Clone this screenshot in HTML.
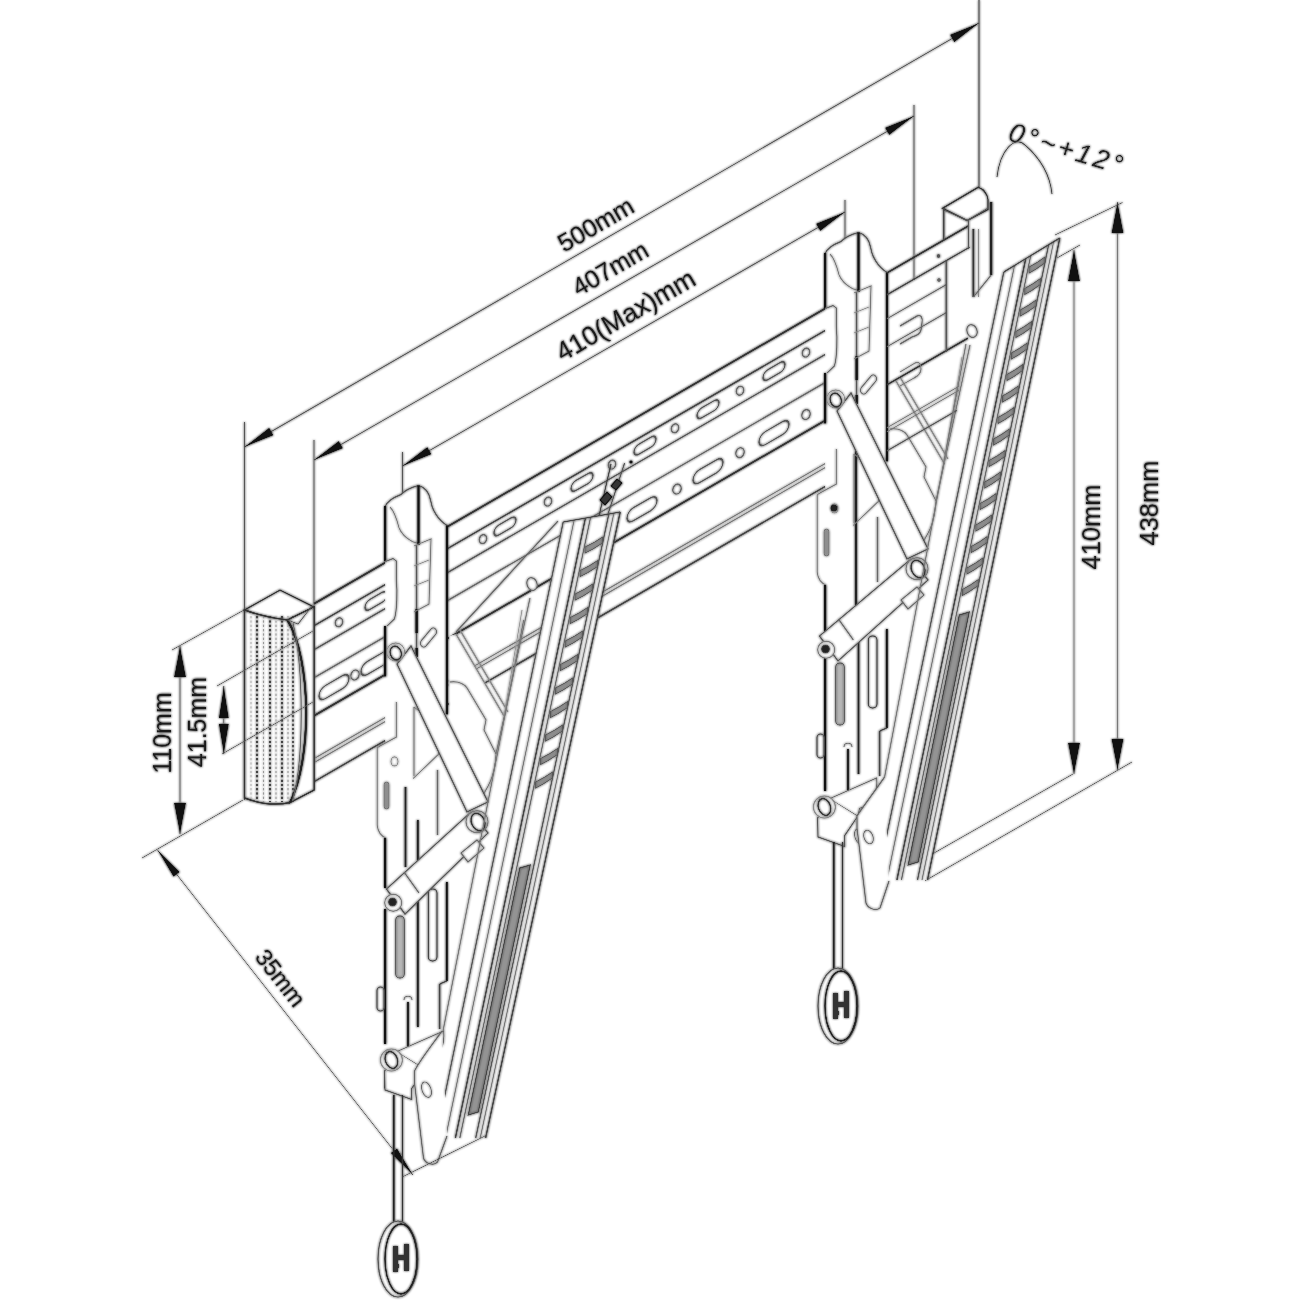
<!DOCTYPE html>
<html><head><meta charset="utf-8"><style>
html,body{margin:0;padding:0;background:#fff;}
svg{display:block;}
text{font-family:"Liberation Sans",sans-serif;}
</style></head><body>
<svg width="1300" height="1300" viewBox="0 0 1300 1300">
<defs>
<filter id="soft" x="0" y="0" width="1300" height="1300" filterUnits="userSpaceOnUse" color-interpolation-filters="sRGB">
<feColorMatrix in="SourceGraphic" type="matrix" values="0 0 0 0 0  0 0 0 0 0  0 0 0 0 0  -0.3333 -0.3333 -0.3333 0 1" result="ink"/>
<feGaussianBlur in="ink" stdDeviation="1.0" result="blur"/>
<feComponentTransfer in="blur" result="amp"><feFuncA type="linear" slope="2.0" intercept="0"/></feComponentTransfer>
<feFlood flood-color="#777" result="col"/>
<feComposite in="col" in2="amp" operator="in" result="halo"/>
<feFlood flood-color="#fff" result="white"/>
<feComposite in="halo" in2="white" operator="over" result="haloW"/>
<feBlend in="SourceGraphic" in2="haloW" mode="darken"/>
</filter>
</defs>
<g filter="url(#soft)">
<rect width="1300" height="1300" fill="#fff"/>
<line x1="244.5" y1="422.0" x2="244.5" y2="800.0" stroke="#555" stroke-width="1.3"/>
<line x1="314.0" y1="440.0" x2="314.0" y2="790.0" stroke="#555" stroke-width="1.3"/>
<line x1="402.5" y1="452.0" x2="402.5" y2="506.0" stroke="#555" stroke-width="1.3"/>
<line x1="845.0" y1="200.0" x2="845.0" y2="252.0" stroke="#555" stroke-width="1.3"/>
<line x1="914.0" y1="105.0" x2="914.0" y2="280.0" stroke="#555" stroke-width="1.3"/>
<line x1="979.0" y1="0.0" x2="979.0" y2="187.0" stroke="#555" stroke-width="1.5"/>
<line x1="244.5" y1="447.0" x2="979.0" y2="23.0" stroke="#555" stroke-width="1.2"/>
<line x1="314.0" y1="460.0" x2="914.0" y2="116.0" stroke="#555" stroke-width="1.2"/>
<line x1="402.5" y1="466.0" x2="845.0" y2="212.0" stroke="#555" stroke-width="1.2"/>
<path d="M244.5,447.0 L269.2,427.8 L273.5,435.2 Z" fill="#111"/>
<path d="M979.0,23.0 L954.3,42.2 L950.0,34.8 Z" fill="#111"/>
<path d="M314.0,460.0 L338.8,440.9 L343.0,448.3 Z" fill="#111"/>
<path d="M914.0,116.0 L889.2,135.1 L885.0,127.7 Z" fill="#111"/>
<path d="M402.5,466.0 L427.3,446.9 L431.5,454.3 Z" fill="#111"/>
<path d="M845.0,212.0 L820.2,231.1 L816.0,223.7 Z" fill="#111"/>
<line x1="180.0" y1="646.0" x2="180.0" y2="834.0" stroke="#555" stroke-width="1.2"/>
<path d="M180.0,646.0 L186.0,677.0 L174.0,677.0 Z" fill="#111"/>
<path d="M180.0,834.0 L174.0,803.0 L186.0,803.0 Z" fill="#111"/>
<line x1="172.0" y1="650.0" x2="244.0" y2="610.0" stroke="#555" stroke-width="1.0"/>
<line x1="142.0" y1="858.0" x2="243.0" y2="800.0" stroke="#555" stroke-width="1.0"/>
<line x1="223.8" y1="686.0" x2="223.8" y2="754.0" stroke="#555" stroke-width="1.2"/>
<path d="M223.8,686.0 L228.8,718.0 L218.8,718.0 Z" fill="#111"/>
<path d="M223.8,754.0 L218.8,724.0 L228.8,724.0 Z" fill="#111"/>
<line x1="157.5" y1="850.0" x2="413.0" y2="1175.0" stroke="#555" stroke-width="1.0"/>
<path d="M157.5,850.0 L179.8,871.9 L173.5,876.8 Z" fill="#111"/>
<path d="M413.0,1175.0 L390.7,1153.1 L397.0,1148.2 Z" fill="#111"/>
<line x1="1074.0" y1="250.0" x2="1074.0" y2="774.0" stroke="#777" stroke-width="1.3"/>
<path d="M1074.0,250.0 L1080.0,281.0 L1068.0,281.0 Z" fill="#111"/>
<path d="M1074.0,774.0 L1068.0,743.0 L1080.0,743.0 Z" fill="#111"/>
<line x1="1057.0" y1="258.0" x2="1080.0" y2="245.0" stroke="#555" stroke-width="1.0"/>
<line x1="932.7" y1="853.8" x2="1073.0" y2="774.0" stroke="#555" stroke-width="1.0"/>
<line x1="1117.5" y1="202.0" x2="1117.5" y2="770.0" stroke="#777" stroke-width="1.3"/>
<path d="M1117.5,202.0 L1123.5,233.0 L1111.5,233.0 Z" fill="#111"/>
<path d="M1117.5,770.0 L1111.5,739.0 L1123.5,739.0 Z" fill="#111"/>
<line x1="1055.0" y1="235.0" x2="1122.5" y2="202.5" stroke="#555" stroke-width="1.0"/>
<line x1="925.0" y1="880.8" x2="1132.0" y2="762.0" stroke="#555" stroke-width="1.0"/>
<text x="600" y="232" font-size="25" text-anchor="middle" transform="rotate(-30 600 232)" fill="#1a1a1a" stroke="#1a1a1a" stroke-width="0.3">500mm</text>
<text x="614.5" y="276" font-size="25" text-anchor="middle" transform="rotate(-30 614.5 276)" fill="#1a1a1a" stroke="#1a1a1a" stroke-width="0.3">407mm</text>
<text x="630" y="323" font-size="26.5" text-anchor="middle" transform="rotate(-30 630 323)" fill="#1a1a1a" stroke="#1a1a1a" stroke-width="0.3">410(Max)mm</text>
<text x="171" y="733" font-size="25" text-anchor="middle" transform="rotate(-90 171 733)" fill="#1a1a1a" stroke="#1a1a1a" stroke-width="0.3">110mm</text>
<text x="206" y="722" font-size="25" text-anchor="middle" transform="rotate(-90 206 722)" fill="#1a1a1a" stroke="#1a1a1a" stroke-width="0.3">41.5mm</text>
<text x="1100" y="527" font-size="25.5" text-anchor="middle" transform="rotate(-90 1100 527)" fill="#1a1a1a" stroke="#1a1a1a" stroke-width="0.3">410mm</text>
<text x="1158" y="503" font-size="25.5" text-anchor="middle" transform="rotate(-90 1158 503)" fill="#1a1a1a" stroke="#1a1a1a" stroke-width="0.3">438mm</text>
<text x="274" y="983" font-size="23.5" text-anchor="middle" transform="rotate(52 274 983)" fill="#1a1a1a" stroke="#1a1a1a" stroke-width="0.3">35mm</text>
<text x="1007" y="140" font-size="27" text-anchor="start" transform="rotate(17 1007 140)" fill="#222" font-style="italic" letter-spacing="3.2">0°~+12°</text>
<path d="M997,177 C1000,150 1015,135 1025,145 C1040,158 1050,175 1052,194" stroke="#444" stroke-width="1.2" fill="none" />
<line x1="314.0" y1="603.7" x2="887.0" y2="272.8" stroke="#333" stroke-width="2.2"/>
<line x1="314.0" y1="625.7" x2="887.0" y2="294.8" stroke="#444" stroke-width="1.8"/>
<line x1="314.0" y1="649.7" x2="887.0" y2="318.8" stroke="#555" stroke-width="1.6"/>
<line x1="314.0" y1="677.7" x2="887.0" y2="346.8" stroke="#666" stroke-width="1.6"/>
<line x1="314.0" y1="715.7" x2="887.0" y2="384.8" stroke="#333" stroke-width="2.2"/>
<line x1="314.0" y1="758.7" x2="887.0" y2="427.8" stroke="#777" stroke-width="1.4"/>
<line x1="314.0" y1="762.7" x2="887.0" y2="431.8" stroke="#777" stroke-width="1.4"/>
<line x1="314.0" y1="781.7" x2="887.0" y2="450.8" stroke="#444" stroke-width="1.8"/>
<ellipse cx="339.0" cy="622.3" rx="3.6" ry="4.5" fill="none" stroke="#666" stroke-width="1.7" transform="rotate(20 339.0 622.3)"/>
<rect x="-11.0" y="-5.0" width="22.0" height="10.0" rx="5.0" fill="none" stroke="#555" stroke-width="1.7" transform="translate(376.0,600.9) skewY(-30)"/>
<ellipse cx="483.0" cy="539.1" rx="3.6" ry="4.5" fill="none" stroke="#666" stroke-width="1.7" transform="rotate(20 483.0 539.1)"/>
<rect x="-11.0" y="-5.0" width="22.0" height="10.0" rx="5.0" fill="none" stroke="#555" stroke-width="1.7" transform="translate(505.0,526.4) skewY(-30)"/>
<ellipse cx="548.0" cy="501.6" rx="3.6" ry="4.5" fill="none" stroke="#666" stroke-width="1.7" transform="rotate(20 548.0 501.6)"/>
<rect x="-11.0" y="-5.0" width="22.0" height="10.0" rx="5.0" fill="none" stroke="#555" stroke-width="1.7" transform="translate(582.0,482.0) skewY(-30)"/>
<ellipse cx="612.0" cy="464.6" rx="3.6" ry="4.5" fill="none" stroke="#666" stroke-width="1.7" transform="rotate(20 612.0 464.6)"/>
<rect x="-11.0" y="-5.0" width="22.0" height="10.0" rx="5.0" fill="none" stroke="#555" stroke-width="1.7" transform="translate(645.0,445.6) skewY(-30)"/>
<ellipse cx="675.0" cy="428.3" rx="3.6" ry="4.5" fill="none" stroke="#666" stroke-width="1.7" transform="rotate(20 675.0 428.3)"/>
<rect x="-11.0" y="-5.0" width="22.0" height="10.0" rx="5.0" fill="none" stroke="#555" stroke-width="1.7" transform="translate(708.0,409.2) skewY(-30)"/>
<ellipse cx="740.0" cy="390.7" rx="3.6" ry="4.5" fill="none" stroke="#666" stroke-width="1.7" transform="rotate(20 740.0 390.7)"/>
<rect x="-11.0" y="-5.0" width="22.0" height="10.0" rx="5.0" fill="none" stroke="#555" stroke-width="1.7" transform="translate(774.0,371.1) skewY(-30)"/>
<ellipse cx="806.0" cy="352.6" rx="3.6" ry="4.5" fill="none" stroke="#666" stroke-width="1.7" transform="rotate(20 806.0 352.6)"/>
<rect x="-11.0" y="-5.0" width="22.0" height="10.0" rx="5.0" fill="none" stroke="#555" stroke-width="1.7" transform="translate(838.0,334.1) skewY(-30)"/>
<rect x="-15.0" y="-6.5" width="30.0" height="13.0" rx="6.5" fill="none" stroke="#555" stroke-width="1.7" transform="translate(334.0,687.1) skewY(-30)"/>
<ellipse cx="355.0" cy="675.0" rx="4.0" ry="5.0" fill="none" stroke="#666" stroke-width="1.7" transform="rotate(20 355.0 675.0)"/>
<rect x="-15.0" y="-6.5" width="30.0" height="13.0" rx="6.5" fill="none" stroke="#555" stroke-width="1.7" transform="translate(376.0,662.9) skewY(-30)"/>
<ellipse cx="612.0" cy="526.6" rx="4.0" ry="5.0" fill="none" stroke="#666" stroke-width="1.7" transform="rotate(20 612.0 526.6)"/>
<rect x="-15.0" y="-6.5" width="30.0" height="13.0" rx="6.5" fill="none" stroke="#555" stroke-width="1.7" transform="translate(642.0,509.3) skewY(-30)"/>
<ellipse cx="677.0" cy="489.1" rx="4.0" ry="5.0" fill="none" stroke="#666" stroke-width="1.7" transform="rotate(20 677.0 489.1)"/>
<rect x="-15.0" y="-6.5" width="30.0" height="13.0" rx="6.5" fill="none" stroke="#555" stroke-width="1.7" transform="translate(708.0,471.2) skewY(-30)"/>
<ellipse cx="740.0" cy="452.7" rx="4.0" ry="5.0" fill="none" stroke="#666" stroke-width="1.7" transform="rotate(20 740.0 452.7)"/>
<rect x="-15.0" y="-6.5" width="30.0" height="13.0" rx="6.5" fill="none" stroke="#555" stroke-width="1.7" transform="translate(774.0,433.1) skewY(-30)"/>
<ellipse cx="806.0" cy="414.6" rx="4.0" ry="5.0" fill="none" stroke="#666" stroke-width="1.7" transform="rotate(20 806.0 414.6)"/>
<path d="M244.5,610 L280,590 L310,605 L314,607 L287.5,620 C270,618 255,614 244.5,610 Z" stroke="#333" stroke-width="1.5" fill="#fff" />
<path d="M287.5,620 C312,660 312,760 290,802.5 L314,790 L314,607 Z" stroke="#333" stroke-width="1.5" fill="#fff" />
<path d="M244.5,610 C255,614 270,618 287.5,620 C312,660 312,760 290,802.5 C275,806 258,803 244.5,798 Z" stroke="#333" stroke-width="1.5" fill="#fff" />
<line x1="251" y1="616" x2="251" y2="802" stroke="#aaa" stroke-width="1.2" stroke-dasharray="2.5,1.8"/>
<line x1="257" y1="616" x2="257" y2="802" stroke="#444" stroke-width="2.2" stroke-dasharray="2.5,1.8"/>
<line x1="263.5" y1="616" x2="263.5" y2="802" stroke="#999" stroke-width="1.3" stroke-dasharray="2.5,1.8"/>
<line x1="270" y1="616" x2="270" y2="802" stroke="#444" stroke-width="2.2" stroke-dasharray="2.5,1.8"/>
<line x1="276" y1="616" x2="276" y2="802" stroke="#999" stroke-width="1.3" stroke-dasharray="2.5,1.8"/>
<line x1="282" y1="616" x2="282" y2="802" stroke="#444" stroke-width="2.2" stroke-dasharray="2.5,1.8"/>
<line x1="288" y1="616" x2="288" y2="802" stroke="#999" stroke-width="1.3" stroke-dasharray="2.5,1.8"/>
<line x1="293" y1="616" x2="293" y2="802" stroke="#555" stroke-width="2.0" stroke-dasharray="2.5,1.8"/>
<path d="M244.5,610 C255,614 270,618 287.5,620 C312,660 312,760 290,802.5 C275,806 258,803 244.5,798 Z" fill="none" stroke="#333" stroke-width="1.5"/>
<path d="M287.5,620 C312,660 312,760 290,802.5 L314,790 L314,607 Z" stroke="#333" stroke-width="1.5" fill="#fff" />
<path d="M287.5,620 C312,660 312,760 290,802.5" stroke="#222" stroke-width="2.4" fill="none" />
<path d="M293,623 C304,670 304,760 292.6,801" stroke="#666" stroke-width="1.4" fill="none" />
<path d="M287.5,620 L298,624 L312,606" stroke="#555" stroke-width="1.2" fill="none" />
<line x1="217.0" y1="686.0" x2="313.0" y2="631.0" stroke="#555" stroke-width="1.0"/>
<line x1="222.0" y1="754.0" x2="313.0" y2="702.0" stroke="#555" stroke-width="1.0"/>
<g><path d="M385,506 C387,501 393,498 401,494.6 C405,490 411,487.5 418.5,485.5 C424,487 429,492 430.5,500 C432,510 438,520 447,525.4 L447,968 L438,1000 L420,1100 L385,1100 Z" stroke="none" stroke-width="0" fill="#fff"/>
<path d="M377,748 L396,737 L396,702 L385,702 L385,840 Z" stroke="none" stroke-width="0" fill="#fff"/>
<path d="M449,636 L457,634 L504,716 L496,754 L482,796 L449,800 Z" stroke="none" stroke-width="0" fill="#fff"/>
<path d="M385,507 C387,501 393,498 401,494.6 C405,490 411,487.5 418.5,485.5 C424,487 429,492 430.5,500 C432,510 438,520 447,525.4" stroke="#555" stroke-width="1.6" fill="none"/>
<path d="M390,507 C393,510 396,516 399,527.7 C401,533 404,537 413,542 L418,543" stroke="#777" stroke-width="1.3" fill="none"/>
<line x1="385.2" y1="506" x2="385.2" y2="561.5" stroke="#111" stroke-width="2.4"/>
<path d="M385.2,561.5 L393,558.5 L396.3,561 L396.3,579.4 C397.5,592 397,610 394.5,618.8 L387,626" stroke="#666" stroke-width="1.4" fill="none"/>
<line x1="385.2" y1="626" x2="385.2" y2="676.6" stroke="#111" stroke-width="2.4"/>
<line x1="447" y1="525.4" x2="447" y2="714.6" stroke="#111" stroke-width="2.4"/>
<line x1="418.5" y1="485.5" x2="418.5" y2="545" stroke="#111" stroke-width="2.6"/>
<line x1="416.6" y1="545" x2="416.6" y2="656" stroke="#555" stroke-width="1.8"/>
<line x1="416.6" y1="609" x2="416.6" y2="633" stroke="#111" stroke-width="2.6"/>
<line x1="416.6" y1="648" x2="416.6" y2="657" stroke="#111" stroke-width="2.6"/>
<path d="M414,546 L431,539 L429,604 L414,612" stroke="#777" stroke-width="1.3" fill="none"/>
<line x1="414" y1="566" x2="429" y2="560" stroke="#888" stroke-width="1.1"/>
<line x1="414" y1="586" x2="429" y2="580" stroke="#888" stroke-width="1.1"/>
<path d="M421,641 L431,629 C434,626 438,630 436,634 L426,646 C423,649 419,645 421,641 Z" stroke="#666" stroke-width="1.2" fill="none"/>
<path d="M377.2,747.8 L381,745.4 L396.3,737 L396.3,702" stroke="#777" stroke-width="1.3" fill="none"/>
<path d="M377.2,747.8 L377.2,825.4 C378,832 381,836 385.8,838" stroke="#777" stroke-width="1.3" fill="none"/>
<line x1="385.2" y1="838" x2="385.2" y2="888" stroke="#111" stroke-width="2.4"/>
<line x1="385.2" y1="909" x2="385.2" y2="1044" stroke="#111" stroke-width="2.4"/>
<line x1="385.2" y1="1071" x2="385.2" y2="1088.5" stroke="#111" stroke-width="2.4"/>
<ellipse cx="394.5" cy="761.4" rx="3.5" ry="4.5" fill="none" stroke="#777" stroke-width="1.1"/>
<rect x="384" y="782" width="5" height="27" rx="2.5" fill="#999" stroke="#666" stroke-width="1"/>
<line x1="405.5" y1="787" x2="405.5" y2="867" stroke="#222" stroke-width="2.2"/>
<line x1="417.8" y1="820" x2="417.8" y2="1027" stroke="#222" stroke-width="2.2"/>
<line x1="414" y1="707" x2="414" y2="776" stroke="#777" stroke-width="1.4"/>
<path d="M414,707 C425,715 436,726 438.8,736.8 L438.8,754 L413,778.6" stroke="#777" stroke-width="1.3" fill="none"/>
<line x1="437.5" y1="770" x2="437.5" y2="835" stroke="#666" stroke-width="1.8"/>
<rect x="428.3" y="889" width="8.7" height="72" rx="4" fill="none" stroke="#444" stroke-width="1.5"/>
<line x1="446.8" y1="882" x2="446.8" y2="981" stroke="#111" stroke-width="2.2"/>
<line x1="446.8" y1="981" x2="439.6" y2="984" stroke="#444" stroke-width="1.5"/>
<rect x="377" y="987" width="7" height="24" rx="3.5" fill="#fff" stroke="#555" stroke-width="1.6"/>
<rect x="395.7" y="916" width="8.6" height="62" rx="4" fill="#bbb" stroke="#555" stroke-width="1.3"/>
<line x1="408" y1="1002" x2="408" y2="1050" stroke="#222" stroke-width="2.2"/>
<path d="M404,1000 C404,995 412,995 412,1000" stroke="#666" stroke-width="1.2" fill="none"/>
<line x1="439.6" y1="984" x2="439.6" y2="1029" stroke="#444" stroke-width="2.0"/>
<path d="M558,521 L456,632" stroke="#666" stroke-width="1.6" fill="none"/>
<path d="M456,634 L504,716 M460,630 L508,712" stroke="#888" stroke-width="1.6" fill="none"/>
<path d="M530,598 L496,754" stroke="#777" stroke-width="1.5" fill="none"/>
<path d="M522,610 L504,716" stroke="#999" stroke-width="1.3" fill="none"/>
<ellipse cx="532" cy="584" rx="5" ry="6.5" fill="#fff" stroke="#666" stroke-width="1.5" transform="rotate(-20 532 584)"/>
<path d="M450,682 C458,681 464,684 467,688 L486,720 L484,730 L496,754 C495,770 492,782 482,796" stroke="#777" stroke-width="1.4" fill="none"/>
<path d="M397,664 L467,812 L488,802 L411,646 Z" stroke="#555" stroke-width="1.6" fill="#fff"/>
<path d="M386.5,889 L471,812 L488,833 L405,914 Z" stroke="#555" stroke-width="1.5" fill="#fff"/>
<path d="M404.0,872 L419.0,893" stroke="#666" stroke-width="1.3" fill="none"/>
<path d="M461,853 L477,840 L484,848 L468,862 Z" stroke="#666" stroke-width="1.3" fill="#fff"/>
<circle cx="395.7" cy="652" r="9" fill="#fff" stroke="#888" stroke-width="1.3"/>
<ellipse cx="395.7" cy="653" rx="5.5" ry="7" fill="#fff" stroke="#333" stroke-width="1.6" transform="rotate(-20 395.7 653)"/>
<circle cx="477" cy="821.7" r="11" fill="#fff" stroke="#777" stroke-width="1.4"/>
<ellipse cx="478" cy="822" rx="6.5" ry="9" fill="#fff" stroke="#333" stroke-width="1.7" transform="rotate(-25 478 822)"/>
<g transform="translate(0,0)">
<circle cx="393.2" cy="902.8" r="8.5" fill="#fff" stroke="#777" stroke-width="1.4"/>
<circle cx="392.5" cy="902" r="4" fill="#222" stroke="#444" stroke-width="1"/>
<path d="M384.6,1071 L397,1051.5 L425,1068.8 L411.7,1088.5 L411.7,1099.5 L385,1090 Z" stroke="#555" stroke-width="1.4" fill="#fff"/>
<path d="M397,1051.5 L443.7,1031 C445,1045 440,1058 426.5,1061.4 L425,1068.8" stroke="#666" stroke-width="1.3" fill="#fff"/>
<circle cx="391.4" cy="1060" r="11" fill="#fff" stroke="#888" stroke-width="1.4"/>
<ellipse cx="391.4" cy="1060" rx="6" ry="8.6" fill="#fff" stroke="#333" stroke-width="1.7" transform="rotate(-20 391.4 1060)"/>
<ellipse cx="426.5" cy="1089.7" rx="4.5" ry="8" fill="none" stroke="#666" stroke-width="1.2" transform="rotate(-20 426.5 1089.7)"/>
</g>
<line x1="393.8" y1="1095" x2="393.8" y2="1224" stroke="#222" stroke-width="2.0"/>
<line x1="402.5" y1="1095" x2="402.5" y2="1224" stroke="#333" stroke-width="1.6"/>
<ellipse cx="398" cy="1259" rx="20" ry="38" fill="#fff" stroke="#555" stroke-width="1.6"/>
<ellipse cx="401" cy="1259" rx="16" ry="35" fill="#fff" stroke="#222" stroke-width="1.8"/>
<path d="M393,1246 h5 v26 h-5 Z M404,1244 h5 v27 h-5 Z M398,1255 h6 v5 h-6 Z M396,1264 h3 v4 h-3 Z" fill="#333"/></g>
<g transform="translate(440,-253)"><path d="M385,506 C387,501 393,498 401,494.6 C405,490 411,487.5 418.5,485.5 C424,487 429,492 430.5,500 C432,510 438,520 447,525.4 L447,968 L438,1000 L420,1100 L385,1100 Z" stroke="none" stroke-width="0" fill="#fff"/>
<path d="M377,748 L396,737 L396,702 L385,702 L385,840 Z" stroke="none" stroke-width="0" fill="#fff"/>
<path d="M449,636 L457,634 L504,716 L496,754 L482,796 L449,800 Z" stroke="none" stroke-width="0" fill="#fff"/>
<path d="M385,507 C387,501 393,498 401,494.6 C405,490 411,487.5 418.5,485.5 C424,487 429,492 430.5,500 C432,510 438,520 447,525.4" stroke="#555" stroke-width="1.6" fill="none"/>
<path d="M390,507 C393,510 396,516 399,527.7 C401,533 404,537 413,542 L418,543" stroke="#777" stroke-width="1.3" fill="none"/>
<line x1="385.2" y1="506" x2="385.2" y2="561.5" stroke="#111" stroke-width="2.4"/>
<path d="M385.2,561.5 L393,558.5 L396.3,561 L396.3,579.4 C397.5,592 397,610 394.5,618.8 L387,626" stroke="#666" stroke-width="1.4" fill="none"/>
<line x1="385.2" y1="626" x2="385.2" y2="676.6" stroke="#111" stroke-width="2.4"/>
<line x1="447" y1="525.4" x2="447" y2="714.6" stroke="#111" stroke-width="2.4"/>
<line x1="418.5" y1="485.5" x2="418.5" y2="545" stroke="#111" stroke-width="2.6"/>
<line x1="416.6" y1="545" x2="416.6" y2="656" stroke="#555" stroke-width="1.8"/>
<line x1="416.6" y1="609" x2="416.6" y2="633" stroke="#111" stroke-width="2.6"/>
<line x1="416.6" y1="648" x2="416.6" y2="657" stroke="#111" stroke-width="2.6"/>
<path d="M414,546 L431,539 L429,604 L414,612" stroke="#777" stroke-width="1.3" fill="none"/>
<line x1="414" y1="566" x2="429" y2="560" stroke="#888" stroke-width="1.1"/>
<line x1="414" y1="586" x2="429" y2="580" stroke="#888" stroke-width="1.1"/>
<path d="M421,641 L431,629 C434,626 438,630 436,634 L426,646 C423,649 419,645 421,641 Z" stroke="#666" stroke-width="1.2" fill="none"/>
<path d="M377.2,747.8 L381,745.4 L396.3,737 L396.3,702" stroke="#777" stroke-width="1.3" fill="none"/>
<path d="M377.2,747.8 L377.2,825.4 C378,832 381,836 385.8,838" stroke="#777" stroke-width="1.3" fill="none"/>
<line x1="385.2" y1="838" x2="385.2" y2="888" stroke="#111" stroke-width="2.4"/>
<line x1="385.2" y1="909" x2="385.2" y2="1044" stroke="#111" stroke-width="2.4"/>
<line x1="385.2" y1="1071" x2="385.2" y2="1088.5" stroke="#111" stroke-width="2.4"/>
<ellipse cx="394.5" cy="761.4" rx="3.5" ry="4.5" fill="none" stroke="#777" stroke-width="1.1"/>
<rect x="384" y="782" width="5" height="27" rx="2.5" fill="#999" stroke="#666" stroke-width="1"/>
<line x1="416" y1="702" x2="416" y2="860" stroke="#222" stroke-width="2.4"/>
<line x1="418.5" y1="895" x2="418.5" y2="1027" stroke="#222" stroke-width="2.2"/>
<circle cx="394" cy="761" r="3.5" fill="#222"/>
<line x1="414" y1="707" x2="414" y2="776" stroke="#777" stroke-width="1.4"/>
<path d="M414,707 C425,715 436,726 438.8,736.8 L438.8,754 L413,778.6" stroke="#777" stroke-width="1.3" fill="none"/>
<line x1="437.5" y1="770" x2="437.5" y2="835" stroke="#666" stroke-width="1.8"/>
<rect x="428.3" y="889" width="8.7" height="72" rx="4" fill="none" stroke="#444" stroke-width="1.5"/>
<line x1="446.8" y1="882" x2="446.8" y2="981" stroke="#111" stroke-width="2.2"/>
<line x1="446.8" y1="981" x2="439.6" y2="984" stroke="#444" stroke-width="1.5"/>
<rect x="377" y="987" width="7" height="24" rx="3.5" fill="#fff" stroke="#555" stroke-width="1.6"/>
<rect x="395.7" y="916" width="8.6" height="62" rx="4" fill="#bbb" stroke="#555" stroke-width="1.3"/>
<line x1="408" y1="1002" x2="408" y2="1050" stroke="#222" stroke-width="2.2"/>
<path d="M404,1000 C404,995 412,995 412,1000" stroke="#666" stroke-width="1.2" fill="none"/>
<line x1="439.6" y1="984" x2="439.6" y2="1029" stroke="#444" stroke-width="2.0"/>
<path d="M456,634 L504,716 M460,630 L508,712" stroke="#888" stroke-width="1.6" fill="none"/>
<path d="M530,598 L496,754" stroke="#777" stroke-width="1.5" fill="none"/>
<path d="M522,610 L504,716" stroke="#999" stroke-width="1.3" fill="none"/>
<ellipse cx="532" cy="584" rx="5" ry="6.5" fill="#fff" stroke="#666" stroke-width="1.5" transform="rotate(-20 532 584)"/>
<path d="M450,682 C458,681 464,684 467,688 L486,720 L484,730 L496,754 C495,770 492,782 482,796" stroke="#777" stroke-width="1.4" fill="none"/>
<path d="M397,664 L467,812 L488,802 L411,646 Z" stroke="#555" stroke-width="1.6" fill="#fff"/>
<path d="M379.5,889 L471,812 L488,833 L398,914 Z" stroke="#555" stroke-width="1.5" fill="#fff"/>
<path d="M398.4,872 L413.4,893" stroke="#666" stroke-width="1.3" fill="none"/>
<path d="M461,853 L477,840 L484,848 L468,862 Z" stroke="#666" stroke-width="1.3" fill="#fff"/>
<circle cx="395.7" cy="652" r="9" fill="#fff" stroke="#888" stroke-width="1.3"/>
<ellipse cx="395.7" cy="653" rx="5.5" ry="7" fill="#fff" stroke="#333" stroke-width="1.6" transform="rotate(-20 395.7 653)"/>
<circle cx="477" cy="821.7" r="11" fill="#fff" stroke="#777" stroke-width="1.4"/>
<ellipse cx="478" cy="822" rx="6.5" ry="9" fill="#fff" stroke="#333" stroke-width="1.7" transform="rotate(-25 478 822)"/>
<g transform="translate(-7,0)">
<circle cx="393.2" cy="902.8" r="8.5" fill="#fff" stroke="#777" stroke-width="1.4"/>
<circle cx="392.5" cy="902" r="4" fill="#222" stroke="#444" stroke-width="1"/>
<path d="M384.6,1071 L397,1051.5 L425,1068.8 L411.7,1088.5 L411.7,1099.5 L385,1090 Z" stroke="#555" stroke-width="1.4" fill="#fff"/>
<path d="M397,1051.5 L443.7,1031 C445,1045 440,1058 426.5,1061.4 L425,1068.8" stroke="#666" stroke-width="1.3" fill="#fff"/>
<circle cx="391.4" cy="1060" r="11" fill="#fff" stroke="#888" stroke-width="1.4"/>
<ellipse cx="391.4" cy="1060" rx="6" ry="8.6" fill="#fff" stroke="#333" stroke-width="1.7" transform="rotate(-20 391.4 1060)"/>
<ellipse cx="426.5" cy="1089.7" rx="4.5" ry="8" fill="none" stroke="#666" stroke-width="1.2" transform="rotate(-20 426.5 1089.7)"/>
</g>
<line x1="393.8" y1="1095" x2="393.8" y2="1224" stroke="#222" stroke-width="2.0"/>
<line x1="402.5" y1="1095" x2="402.5" y2="1224" stroke="#333" stroke-width="1.6"/>
<ellipse cx="398" cy="1259" rx="20" ry="38" fill="#fff" stroke="#555" stroke-width="1.6"/>
<ellipse cx="401" cy="1259" rx="16" ry="35" fill="#fff" stroke="#222" stroke-width="1.8"/>
<path d="M393,1246 h5 v26 h-5 Z M404,1244 h5 v27 h-5 Z M398,1255 h6 v5 h-6 Z M396,1264 h3 v4 h-3 Z" fill="#333"/></g>
<line x1="887.0" y1="272.8" x2="968.5" y2="225.8" stroke="#333" stroke-width="2.0"/>
<line x1="887.0" y1="294.8" x2="969.7" y2="247.1" stroke="#444" stroke-width="1.6"/>
<line x1="887.0" y1="318.8" x2="946.3" y2="284.6" stroke="#666" stroke-width="1.3"/>
<line x1="887.0" y1="346.8" x2="946.3" y2="312.6" stroke="#666" stroke-width="1.3"/>
<line x1="887.0" y1="384.8" x2="968.0" y2="338.1" stroke="#333" stroke-width="1.8"/>
<line x1="887.0" y1="427.8" x2="959.0" y2="386.3" stroke="#777" stroke-width="1.2"/>
<line x1="887.0" y1="431.8" x2="959.0" y2="390.3" stroke="#777" stroke-width="1.2"/>
<line x1="887.0" y1="450.8" x2="957.0" y2="410.4" stroke="#555" stroke-width="1.5"/>
<line x1="946.3" y1="261.0" x2="946.3" y2="352.0" stroke="#555" stroke-width="2.0"/>
<path d="M900,326 L917,316 C921,314 923,318 922,323 L921,330 C920,334 916,336 912,337 L900,344" stroke="#666" stroke-width="1.5" fill="none" />
<path d="M900,372 L915,363 C919,361 921,364 921,369 C921,373 918,376 914,378 L900,386" stroke="#777" stroke-width="1.4" fill="none" />
<circle cx="938.5" cy="256" r="2" fill="#555"/>
<circle cx="939" cy="280" r="2" fill="#666"/>
<path d="M942.6,208.2 L978.3,187.2 C983,189 987,193 988,199.5 L988,209.4 L967.2,220.5 Z" stroke="#333" stroke-width="1.6" fill="#fff" />
<path d="M943.8,210 L967.2,220.5 L988,208" stroke="#555" stroke-width="1.3" fill="none" />
<line x1="943.8" y1="208.0" x2="943.8" y2="240.0" stroke="#444" stroke-width="1.8"/>
<line x1="991.2" y1="202.0" x2="991.2" y2="275.0" stroke="#222" stroke-width="2.6"/>
<line x1="968.5" y1="220.5" x2="968.5" y2="249.0" stroke="#555" stroke-width="1.5"/>
<line x1="973.4" y1="229.0" x2="973.4" y2="297.0" stroke="#333" stroke-width="2.2"/>
<line x1="978.5" y1="229.0" x2="978.5" y2="297.0" stroke="#888" stroke-width="1.2"/>
<path d="M991.2,275 L973.4,297" stroke="#666" stroke-width="1.3" fill="none" />
<path d="M563.2,522.0 L620.2,512.0 L485.6,1138.0 L436.0,1141.0 Z" fill="#fff" stroke="none"/>
<line x1="563.2" y1="522.0" x2="436.0" y2="1138.0" stroke="#555" stroke-width="1.6"/>
<line x1="574.1" y1="520.1" x2="445.5" y2="1138.0" stroke="#777" stroke-width="1.4"/>
<line x1="585.4" y1="518.1" x2="455.4" y2="1138.0" stroke="#444" stroke-width="1.8"/>
<line x1="590.6" y1="517.2" x2="459.8" y2="1138.0" stroke="#666" stroke-width="1.5"/>
<line x1="608.8" y1="514.0" x2="475.7" y2="1138.0" stroke="#555" stroke-width="1.6"/>
<line x1="613.9" y1="513.1" x2="480.2" y2="1138.0" stroke="#777" stroke-width="1.4"/>
<line x1="620.2" y1="512.0" x2="485.6" y2="1138.0" stroke="#444" stroke-width="1.8"/>
<path d="M585.1,547.0 L594.8,542.0 L602.6,537.0 L602.6,543.0 L593.0,549.0 L585.1,553.0 Z" fill="#999" stroke="#555" stroke-width="1.1"/>
<path d="M580.2,570.5 L589.8,565.5 L597.6,560.5 L597.6,566.5 L588.0,572.5 L580.2,576.5 Z" fill="#999" stroke="#555" stroke-width="1.1"/>
<path d="M575.2,594.0 L584.8,589.0 L592.6,584.0 L592.6,590.0 L583.1,596.0 L575.2,600.0 Z" fill="#999" stroke="#555" stroke-width="1.1"/>
<path d="M570.3,617.5 L579.8,612.5 L587.6,607.5 L587.6,613.5 L578.1,619.5 L570.3,623.5 Z" fill="#999" stroke="#555" stroke-width="1.1"/>
<path d="M565.3,641.0 L574.8,636.0 L582.6,631.0 L582.6,637.0 L573.1,643.0 L565.3,647.0 Z" fill="#999" stroke="#555" stroke-width="1.1"/>
<path d="M560.4,664.5 L569.8,659.5 L577.6,654.5 L577.6,660.5 L568.1,666.5 L560.4,670.5 Z" fill="#999" stroke="#555" stroke-width="1.1"/>
<path d="M555.4,688.0 L564.9,683.0 L572.5,678.0 L572.5,684.0 L563.1,690.0 L555.4,694.0 Z" fill="#999" stroke="#555" stroke-width="1.1"/>
<path d="M550.5,711.5 L559.9,706.5 L567.5,701.5 L567.5,707.5 L558.2,713.5 L550.5,717.5 Z" fill="#999" stroke="#555" stroke-width="1.1"/>
<path d="M545.5,735.0 L554.9,730.0 L562.5,725.0 L562.5,731.0 L553.2,737.0 L545.5,741.0 Z" fill="#999" stroke="#555" stroke-width="1.1"/>
<path d="M540.6,758.5 L549.9,753.5 L557.5,748.5 L557.5,754.5 L548.2,760.5 L540.6,764.5 Z" fill="#999" stroke="#555" stroke-width="1.1"/>
<path d="M535.6,782.0 L544.9,777.0 L552.5,772.0 L552.5,778.0 L543.2,784.0 L535.6,788.0 Z" fill="#999" stroke="#555" stroke-width="1.1"/>
<path d="M519.8,868.0 L530.2,865.0 L478.3,1112.0 L468.3,1115.0 Z" fill="#9a9a9a" stroke="#444" stroke-width="1.5"/>
<line x1="563.2" y1="522.0" x2="620.2" y2="512.0" stroke="#444" stroke-width="1.5"/>
<line x1="599.0" y1="516.0" x2="611.0" y2="464.0" stroke="#444" stroke-width="1.5"/>
<line x1="608.0" y1="514.0" x2="624.6" y2="463.0" stroke="#555" stroke-width="1.5"/>
<path d="M600,500 L607,492 L612,497 L605,505 Z M611,486 L617,479 L622,483 L616,490 Z" stroke="#111" stroke-width="1.2" fill="#333" />
<circle cx="631" cy="462" r="1.8" fill="#111"/>
<path d="M1003.8,272.0 L1059.8,238.0 L927.5,880.0 L877.4,883.0 Z" fill="#fff" stroke="none"/>
<line x1="1003.8" y1="272.0" x2="877.4" y2="880.0" stroke="#555" stroke-width="1.6"/>
<line x1="1014.5" y1="265.5" x2="886.9" y2="880.0" stroke="#777" stroke-width="1.4"/>
<line x1="1025.7" y1="258.7" x2="896.9" y2="880.0" stroke="#444" stroke-width="1.8"/>
<line x1="1030.7" y1="255.7" x2="901.4" y2="880.0" stroke="#666" stroke-width="1.5"/>
<line x1="1048.6" y1="244.8" x2="917.5" y2="880.0" stroke="#555" stroke-width="1.6"/>
<line x1="1053.6" y1="241.7" x2="922.0" y2="880.0" stroke="#777" stroke-width="1.4"/>
<line x1="1059.8" y1="238.0" x2="927.5" y2="880.0" stroke="#444" stroke-width="1.8"/>
<path d="M1029.2,267.0 L1037.8,262.0 L1044.8,257.0 L1044.8,263.0 L1036.2,269.0 L1029.2,273.0 Z" fill="#999" stroke="#555" stroke-width="1.1"/>
<path d="M1024.7,288.5 L1033.3,283.5 L1040.4,278.5 L1040.4,284.5 L1031.8,290.5 L1024.7,294.5 Z" fill="#999" stroke="#555" stroke-width="1.1"/>
<path d="M1020.3,310.0 L1028.9,305.0 L1036.0,300.0 L1036.0,306.0 L1027.3,312.0 L1020.3,316.0 Z" fill="#999" stroke="#555" stroke-width="1.1"/>
<path d="M1015.8,331.5 L1024.5,326.5 L1031.5,321.5 L1031.5,327.5 L1022.9,333.5 L1015.8,337.5 Z" fill="#999" stroke="#555" stroke-width="1.1"/>
<path d="M1011.4,353.0 L1020.0,348.0 L1027.1,343.0 L1027.1,349.0 L1018.4,355.0 L1011.4,359.0 Z" fill="#999" stroke="#555" stroke-width="1.1"/>
<path d="M1006.9,374.5 L1015.6,369.5 L1022.6,364.5 L1022.6,370.5 L1014.0,376.5 L1006.9,380.5 Z" fill="#999" stroke="#555" stroke-width="1.1"/>
<path d="M1002.5,396.0 L1011.1,391.0 L1018.2,386.0 L1018.2,392.0 L1009.6,398.0 L1002.5,402.0 Z" fill="#999" stroke="#555" stroke-width="1.1"/>
<path d="M998.0,417.5 L1006.7,412.5 L1013.8,407.5 L1013.8,413.5 L1005.1,419.5 L998.0,423.5 Z" fill="#999" stroke="#555" stroke-width="1.1"/>
<path d="M993.6,439.0 L1002.2,434.0 L1009.3,429.0 L1009.3,435.0 L1000.7,441.0 L993.6,445.0 Z" fill="#999" stroke="#555" stroke-width="1.1"/>
<path d="M989.1,460.5 L997.8,455.5 L1004.9,450.5 L1004.9,456.5 L996.2,462.5 L989.1,466.5 Z" fill="#999" stroke="#555" stroke-width="1.1"/>
<path d="M984.7,482.0 L993.4,477.0 L1000.5,472.0 L1000.5,478.0 L991.8,484.0 L984.7,488.0 Z" fill="#999" stroke="#555" stroke-width="1.1"/>
<path d="M980.2,503.5 L988.9,498.5 L996.0,493.5 L996.0,499.5 L987.3,505.5 L980.2,509.5 Z" fill="#999" stroke="#555" stroke-width="1.1"/>
<path d="M975.8,525.0 L984.5,520.0 L991.6,515.0 L991.6,521.0 L982.9,527.0 L975.8,531.0 Z" fill="#999" stroke="#555" stroke-width="1.1"/>
<path d="M971.3,546.5 L980.0,541.5 L987.1,536.5 L987.1,542.5 L978.4,548.5 L971.3,552.5 Z" fill="#999" stroke="#555" stroke-width="1.1"/>
<path d="M966.9,568.0 L975.6,563.0 L982.7,558.0 L982.7,564.0 L974.0,570.0 L966.9,574.0 Z" fill="#999" stroke="#555" stroke-width="1.1"/>
<path d="M962.4,589.5 L971.1,584.5 L978.3,579.5 L978.3,585.5 L969.5,591.5 L962.4,595.5 Z" fill="#999" stroke="#555" stroke-width="1.1"/>
<path d="M959.3,615.0 L969.2,612.0 L918.2,862.0 L908.2,865.0 Z" fill="#9a9a9a" stroke="#444" stroke-width="1.5"/>
<line x1="1003.8" y1="272.0" x2="1059.8" y2="238.0" stroke="#444" stroke-width="1.5"/>
<line x1="523.7" y1="620.0" x2="443.0" y2="1031.0" stroke="#777" stroke-width="1.5"/>
<line x1="966.0" y1="344.0" x2="884.6" y2="777.0" stroke="#777" stroke-width="1.5"/>
<path d="M442,1031 C432,1045 420,1060 414.5,1071 L414.5,1083 L423.5,1158 C425,1164 434,1166 437.5,1162 L447,1136" stroke="#666" stroke-width="1.5" fill="#fff" />
<ellipse cx="426.5" cy="1089.7" rx="4.5" ry="8" fill="none" stroke="#666" stroke-width="1.2" transform="rotate(-20 426.5 1089.7)"/>
<path d="M884.6,777 C872,795 862,808 857,816 L857,828 L866,903 C868,909 876,911 880,908 L889,881" stroke="#666" stroke-width="1.5" fill="#fff" />
<ellipse cx="868.5" cy="837" rx="4.5" ry="7" fill="none" stroke="#666" stroke-width="1.2" transform="rotate(-20 868.5 837)"/>
<line x1="402.6" y1="1176.8" x2="487.0" y2="1135.0" stroke="#555" stroke-width="1.0"/>
</g>
</svg></body></html>
